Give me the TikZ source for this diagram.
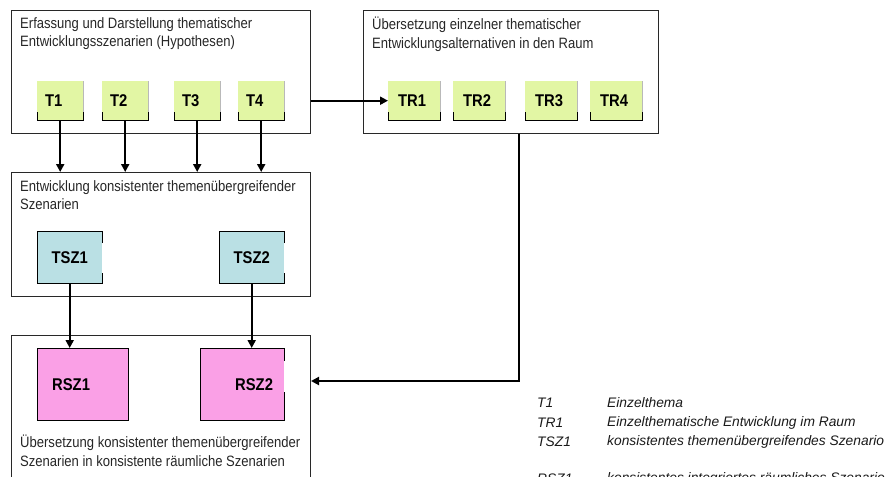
\documentclass[tikz,border=0pt]{standalone}
\usepackage{fontspec}
\setmainfont{Liberation Sans}
\newfontfamily\narrowfont[FakeStretch=0.87]{Liberation Sans}
\usetikzlibrary{arrows.meta}
\definecolor{tgreen}{RGB}{226,246,164}
\definecolor{tblue}{RGB}{186,224,228}
\definecolor{tpink}{RGB}{250,160,230}
\definecolor{frame}{RGB}{40,40,40}
\begin{document}
\begin{tikzpicture}[x=1pt,y=-1pt,
  bigbox/.style={draw=frame, line width=1pt, anchor=north west, inner sep=0pt},
  boxlabel/.style={anchor=north west, inner sep=0pt, align=left,
    font=\narrowfont\fontsize{15}{18.5}\selectfont, text=black!85},
  tbox/.style={fill=tgreen, anchor=north west, inner ysep=0pt, minimum height=39pt,
    align=left, font=\narrowfont\bfseries\fontsize{17}{17}\selectfont},
  sbox/.style={fill=tblue, anchor=north west, inner sep=0pt, minimum width=65pt, minimum height=52pt,
    font=\narrowfont\bfseries\fontsize{17}{17}\selectfont},
  rbox/.style={fill=tpink, anchor=north west, inner ysep=0pt, minimum height=72pt,
    align=left, font=\narrowfont\bfseries\fontsize{17}{17}\selectfont},
  conn/.style={line width=2pt, -{Triangle[length=8pt,width=8pt]}},
  legend/.style={anchor=west, inner sep=0pt, font=\fontsize{13.8}{14}\selectfont\itshape, text=black!90}
  ]
\path[use as bounding box] (0,0) rectangle (893,476);
\clip (0,0) rectangle (893,476);

% main frames
\node[bigbox, minimum width=299pt, minimum height=123pt] (b1) at (11,10) {};
\node[bigbox, minimum width=295pt, minimum height=123pt] (b2) at (363,10) {};
\node[bigbox, minimum width=299pt, minimum height=124pt] (b3) at (11,172) {};
\node[bigbox, minimum width=299pt, minimum height=160pt] (b4) at (11,335) {};

\node[boxlabel] (l1) at (20,17) {Erfassung und Darstellung thematischer\\Entwicklungsszenarien (Hypothesen)};
\node[boxlabel] (l2) at (372,17) {Übersetzung einzelner thematischer\\Entwicklungsalternativen in den Raum};
\node[boxlabel] (l3) at (20,180) {Entwicklung konsistenter themenübergreifender\\Szenarien};
\node[boxlabel] (l4) at (20,435) {Übersetzung konsistenter themenübergreifender\\Szenarien in konsistente räumliche Szenarien};

% T boxes
\node[tbox, inner xsep=8pt, text width=30pt] (t1) at (37,81) {T1};
\node[tbox, inner xsep=8pt, text width=30pt] (t2) at (102,81) {T2};
\node[tbox, inner xsep=8pt, text width=30pt] (t3) at (174,81) {T3};
\node[tbox, inner xsep=8pt, text width=30pt] (t4) at (238,81) {T4};
% TR boxes
\node[tbox, inner xsep=10pt, text width=32pt] (tr1) at (388,81) {TR1};
\node[tbox, inner xsep=10pt, text width=32pt] (tr2) at (453,81) {TR2};
\node[tbox, inner xsep=10pt, text width=32pt] (tr3) at (525,81) {TR3};
\node[tbox, inner xsep=10pt, text width=32pt] (tr4) at (590,81) {TR4};

\foreach \n in {t1,t2,t3,t4,tr1,tr2,tr3,tr4}{
  \draw[gray!55, line width=0.8pt] (\n.south east) -- (\n.north east);
  \draw[black, line width=1pt] ([yshift=8pt]\n.south west) -- (\n.south west) -- (\n.south east) -- ([yshift=8pt]\n.south east);
}

% TSZ boxes
\node[sbox] (s1) at (37,231) {TSZ1};
\node[sbox] (s2) at (219,231) {TSZ2};
\foreach \n in {s1,s2}{
  \draw[black, line width=1pt] ([yshift=-12pt]\n.north east) -- (\n.north east) -- (\n.north west) -- (\n.south west) -- (\n.south east) -- ([yshift=10pt]\n.south east);
}

% RSZ boxes
\node[rbox, inner xsep=15pt, text width=61pt] (r1) at (37,348) {RSZ1};
\node[rbox, inner xsep=15pt, text width=54pt] (r2) at (200,348) {\hspace*{20pt}RSZ2};
\draw[black, line width=1pt] (r1.north west) rectangle (r1.south east);
\draw[black, line width=1pt] ([yshift=-13pt]r2.north east) -- (r2.north east) -- (r2.north west) -- (r2.south west) -- (r2.south east) -- ([yshift=28pt]r2.south east);

% connectors
\foreach \a/\b in {t1/b3,t2/b3,t3/b3,t4/b3}{
  \draw[conn] (\a.south) -- (\a.south |- \b.north);
}
\draw[conn] (s1.south) -- (r1.north -| s1.south);
\draw[conn] (s2.south) -- (r2.north -| s2.south);
\draw[conn] (b1.east |- tr1.west) -- (tr1.west);
\coordinate (c) at (519,381);
\draw[conn] (c |- b2.south) -- (c) -- (b4.east |- c);

% legend
\node[legend] (k1) at (537,403) {T1};
\node[legend] (v1) at (607,403) {Einzelthema};
\node[legend] (k2) at (537,423) {TR1};
\node[legend] (v2) at (607,423) {Einzelthematische Entwicklung im Raum};
\node[legend] (k3) at (537,442) {TSZ1};
\node[legend] (v3) at (607,442) {konsistentes themenübergreifendes Szenario};
\node[legend] (k4) at (537,479) {RSZ1};
\node[legend] (v4) at (607,479) {konsistentes integriertes räumliches Szenario};
\end{tikzpicture}
\end{document}
